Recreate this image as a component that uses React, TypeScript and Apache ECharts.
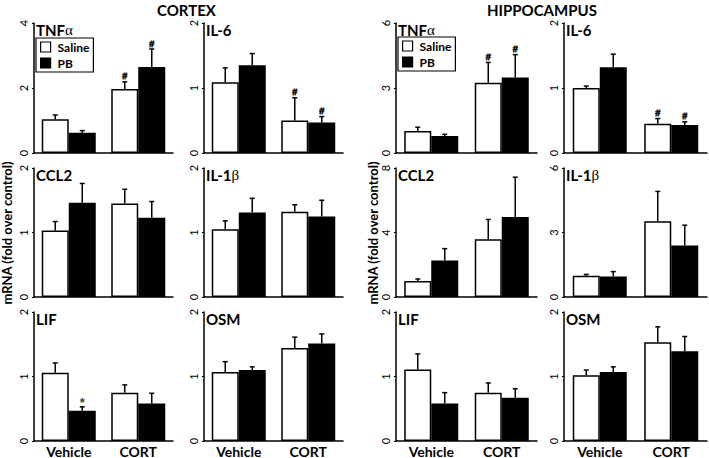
import React, { useEffect, useRef } from 'react';
import * as echarts from 'echarts';

const categories = ['Vehicle', 'CORT'];
const groupNames = ['Saline', 'PB'];
const regionHeaders = ['CORTEX', 'HIPPOCAMPUS'];
const yTitle = 'mRNA (fold over control)';
const panelTitles = ['TNF{g|α}', 'IL-6', 'TNF{g|α}', 'IL-6', 'CCL2', 'IL-1{g|β}', 'CCL2', 'IL-1{g|β}', 'LIF', 'OSM', 'LIF', 'OSM'];
const yMax = [4, 2, 6, 2, 2, 2, 8, 6, 2, 2, 2, 2];

const salineMean = [
  [1.04, 1.97], [1.09, 0.5], [1.02, 3.24], [1.0, 0.45],
  [1.03, 1.45], [1.05, 1.32], [1.0, 3.58], [0.99, 3.52],
  [1.06, 0.75], [1.07, 1.44], [1.11, 0.75], [1.02, 1.53],
];
const salineSem = [
  [0.13, 0.22], [0.22, 0.35], [0.17, 0.94], [0.03, 0.08],
  [0.14, 0.22], [0.13, 0.11], [0.12, 1.23], [0.06, 1.39],
  [0.15, 0.12], [0.16, 0.17], [0.24, 0.15], [0.08, 0.24],
];
const pbMean = [
  [0.62, 2.65], [1.35, 0.47], [0.79, 3.49], [1.32, 0.43],
  [1.46, 1.23], [1.31, 1.25], [2.27, 4.96], [0.95, 2.4],
  [0.47, 0.58], [1.1, 1.51], [0.58, 0.67], [1.07, 1.39],
];
const pbSem = [
  [0.07, 0.55], [0.18, 0.09], [0.07, 1.05], [0.2, 0.05],
  [0.3, 0.25], [0.22, 0.25], [0.73, 2.47], [0.23, 0.94],
  [0.06, 0.16], [0.05, 0.15], [0.17, 0.14], [0.08, 0.23],
];
const salineMarks = [
  ['', '#'], ['', '#'], ['', '#'], ['', '#'],
  ['', ''], ['', ''], ['', ''], ['', ''],
  ['', ''], ['', ''], ['', ''], ['', ''],
];
const pbMarks = [
  ['', '#'], ['', '#'], ['', '#'], ['', '#'],
  ['', ''], ['', ''], ['', ''], ['', ''],
  ['*', ''], ['', ''], ['', ''], ['', ''],
];

const colLeft = [34, 204, 396, 564];
const colWidth = [139, 139, 141, 143];
const rowTop = [23, 168, 312];
const rowHeight = [130, 129, 129];
const BAR_W = 27;
const FONT = 'Lato, "Open Sans", sans-serif';

export default function App() {
  const ref = useRef<HTMLDivElement>(null);
  useEffect(() => {
    if (!ref.current) return;
    const chart = echarts.init(ref.current, null, { renderer: 'svg' });
    const grid: any[] = [];
    const xAxis: any[] = [];
    const yAxis: any[] = [];
    const series: any[] = [];
    const title: any[] = [];

    const errSeries = (gi: number, means: number[], sems: number[], offset: number) => ({
      type: 'custom',
      xAxisIndex: gi,
      yAxisIndex: gi,
      silent: true,
      z: 5,
      itemStyle: { color: '#000' },
      data: means.map((m, i) => [i, m, m + sems[i]]),
      renderItem: (params: any, api: any) => {
        const c = api.coord([api.value(0), api.value(1)]);
        const t = api.coord([api.value(0), api.value(2)]);
        const x = c[0] + offset;
        return {
          type: 'group',
          children: [
            { type: 'line', shape: { x1: x, y1: c[1], x2: x, y2: t[1] }, style: { stroke: '#000', lineWidth: 1.5 } },
            { type: 'line', shape: { x1: x - 2.5, y1: t[1], x2: x + 2.5, y2: t[1] }, style: { stroke: '#000', lineWidth: 1.5 } },
          ],
        };
      },
    });

    const markSeries = (gi: number) => {
      const data: any[] = [];
      [0, 1].forEach((i) => {
        const groups = [
          { mk: salineMarks[gi][i], top: salineMean[gi][i] + salineSem[gi][i], off: -BAR_W / 2 },
          { mk: pbMarks[gi][i], top: pbMean[gi][i] + pbSem[gi][i], off: BAR_W / 2 },
        ];
        groups.forEach((g) => {
          if (g.mk) {
            data.push({
              value: [i, g.top],
              label: {
                formatter: g.mk,
                offset: [g.off, 0],
                fontSize: g.mk === '*' ? 13 : 9,
                distance: g.mk === '*' ? -2 : 1,
                color: '#000',
                fontWeight: 'bold',
                textBorderColor: '#000',
                textBorderWidth: g.mk === '*' ? 0 : 0.8,
              },
            });
          }
        });
      });
      return {
        type: 'scatter',
        xAxisIndex: gi,
        yAxisIndex: gi,
        silent: true,
        symbolSize: 0,
        z: 6,
        itemStyle: { color: '#000' },
        label: { show: true, position: 'top', color: '#000', fontFamily: '"Liberation Sans", sans-serif' },
        data,
      };
    };

    for (let gi = 0; gi < 12; gi++) {
      const r = Math.floor(gi / 4);
      const c = gi % 4;
      grid.push({ left: colLeft[c], top: rowTop[r], width: colWidth[c], height: rowHeight[r] });
      xAxis.push({
        type: 'category',
        gridIndex: gi,
        data: categories,
        axisLine: { show: true, lineStyle: { color: '#000', width: 1.5 } },
        axisTick: { show: false },
        axisLabel: r === 2
          ? { show: true, color: '#000', fontSize: 14, fontWeight: 'bold', fontFamily: FONT, margin: 3 }
          : { show: false },
      });
      yAxis.push({
        type: 'value',
        gridIndex: gi,
        min: 0,
        max: yMax[gi],
        interval: yMax[gi] / 2,
        splitLine: { show: false },
        axisLine: { show: true, lineStyle: { color: '#000', width: 1.5 } },
        axisTick: { show: true, length: 2, lineStyle: { color: '#000' } },
        axisLabel: { rotate: 90, fontSize: 11, color: '#000', margin: 5, fontFamily: FONT },
      });
      series.push({
        type: 'bar',
        name: groupNames[0],
        xAxisIndex: gi,
        yAxisIndex: gi,
        barWidth: BAR_W,
        barGap: '0%',
        data: salineMean[gi],
        itemStyle: { color: '#fff', borderColor: '#000', borderWidth: 1.5 },
      });
      series.push({
        type: 'bar',
        name: groupNames[1],
        xAxisIndex: gi,
        yAxisIndex: gi,
        barWidth: BAR_W,
        barGap: '0%',
        data: pbMean[gi],
        itemStyle: { color: '#000', borderColor: '#000', borderWidth: 1.5 },
      });
      series.push(errSeries(gi, salineMean[gi], salineSem[gi], -BAR_W / 2));
      series.push(errSeries(gi, pbMean[gi], pbSem[gi], BAR_W / 2));
      series.push(markSeries(gi));
      title.push({
        text: panelTitles[gi],
        left: colLeft[c] + 2,
        top: rowTop[r] - 1,
        padding: 0,
        textStyle: {
          fontSize: 15,
          fontWeight: 'bold',
          color: '#000',
          fontFamily: FONT,
          rich: { g: { fontSize: 15, fontWeight: 'normal', fontFamily: '"Liberation Serif", serif', color: '#000' } },
        },
      });
    }

    const legendBase = {
      orient: 'vertical',
      data: groupNames,
      itemWidth: 10,
      itemHeight: 10,
      itemGap: 4,
      padding: [3, 4, 3, 4],
      borderColor: '#000',
      borderWidth: 1.2,
      borderRadius: 0,
      icon: 'rect',
      selectedMode: false,
      itemStyle: { borderColor: '#000', borderWidth: 1.2 },
      textStyle: { fontSize: 12, fontWeight: 'bold', color: '#000', fontFamily: FONT, padding: [0, 0, 0, 2] },
    };

    chart.setOption({
      animation: false,
      backgroundColor: '#fff',
      title,
      legend: [
        { ...legendBase, left: 36, top: 38 },
        { ...legendBase, left: 398, top: 37 },
      ],
      grid,
      xAxis,
      yAxis,
      series,
      graphic: [
        { type: 'text', left: 189 - 32, top: 2, style: { text: regionHeaders[0], fontSize: 15, fontWeight: 'bold', fill: '#000', fontFamily: FONT } },
        { type: 'text', left: 537 - 50, top: 2, style: { text: regionHeaders[1], fontSize: 15, fontWeight: 'bold', fill: '#000', fontFamily: FONT } },
        { type: 'text', x: 7, y: 233, rotation: Math.PI / 2, style: { text: yTitle, fontSize: 13, fontWeight: 'bold', fill: '#000', fontFamily: FONT, align: 'center', verticalAlign: 'middle' } },
        { type: 'text', x: 373, y: 233, rotation: Math.PI / 2, style: { text: yTitle, fontSize: 13, fontWeight: 'bold', fill: '#000', fontFamily: FONT, align: 'center', verticalAlign: 'middle' } },
      ],
    });
    return () => chart.dispose();
  }, []);
  return <div ref={ref} style={{ position: 'fixed', left: 0, top: 0, width: 709, height: 458, opacity: 0.999 }} />;
}
